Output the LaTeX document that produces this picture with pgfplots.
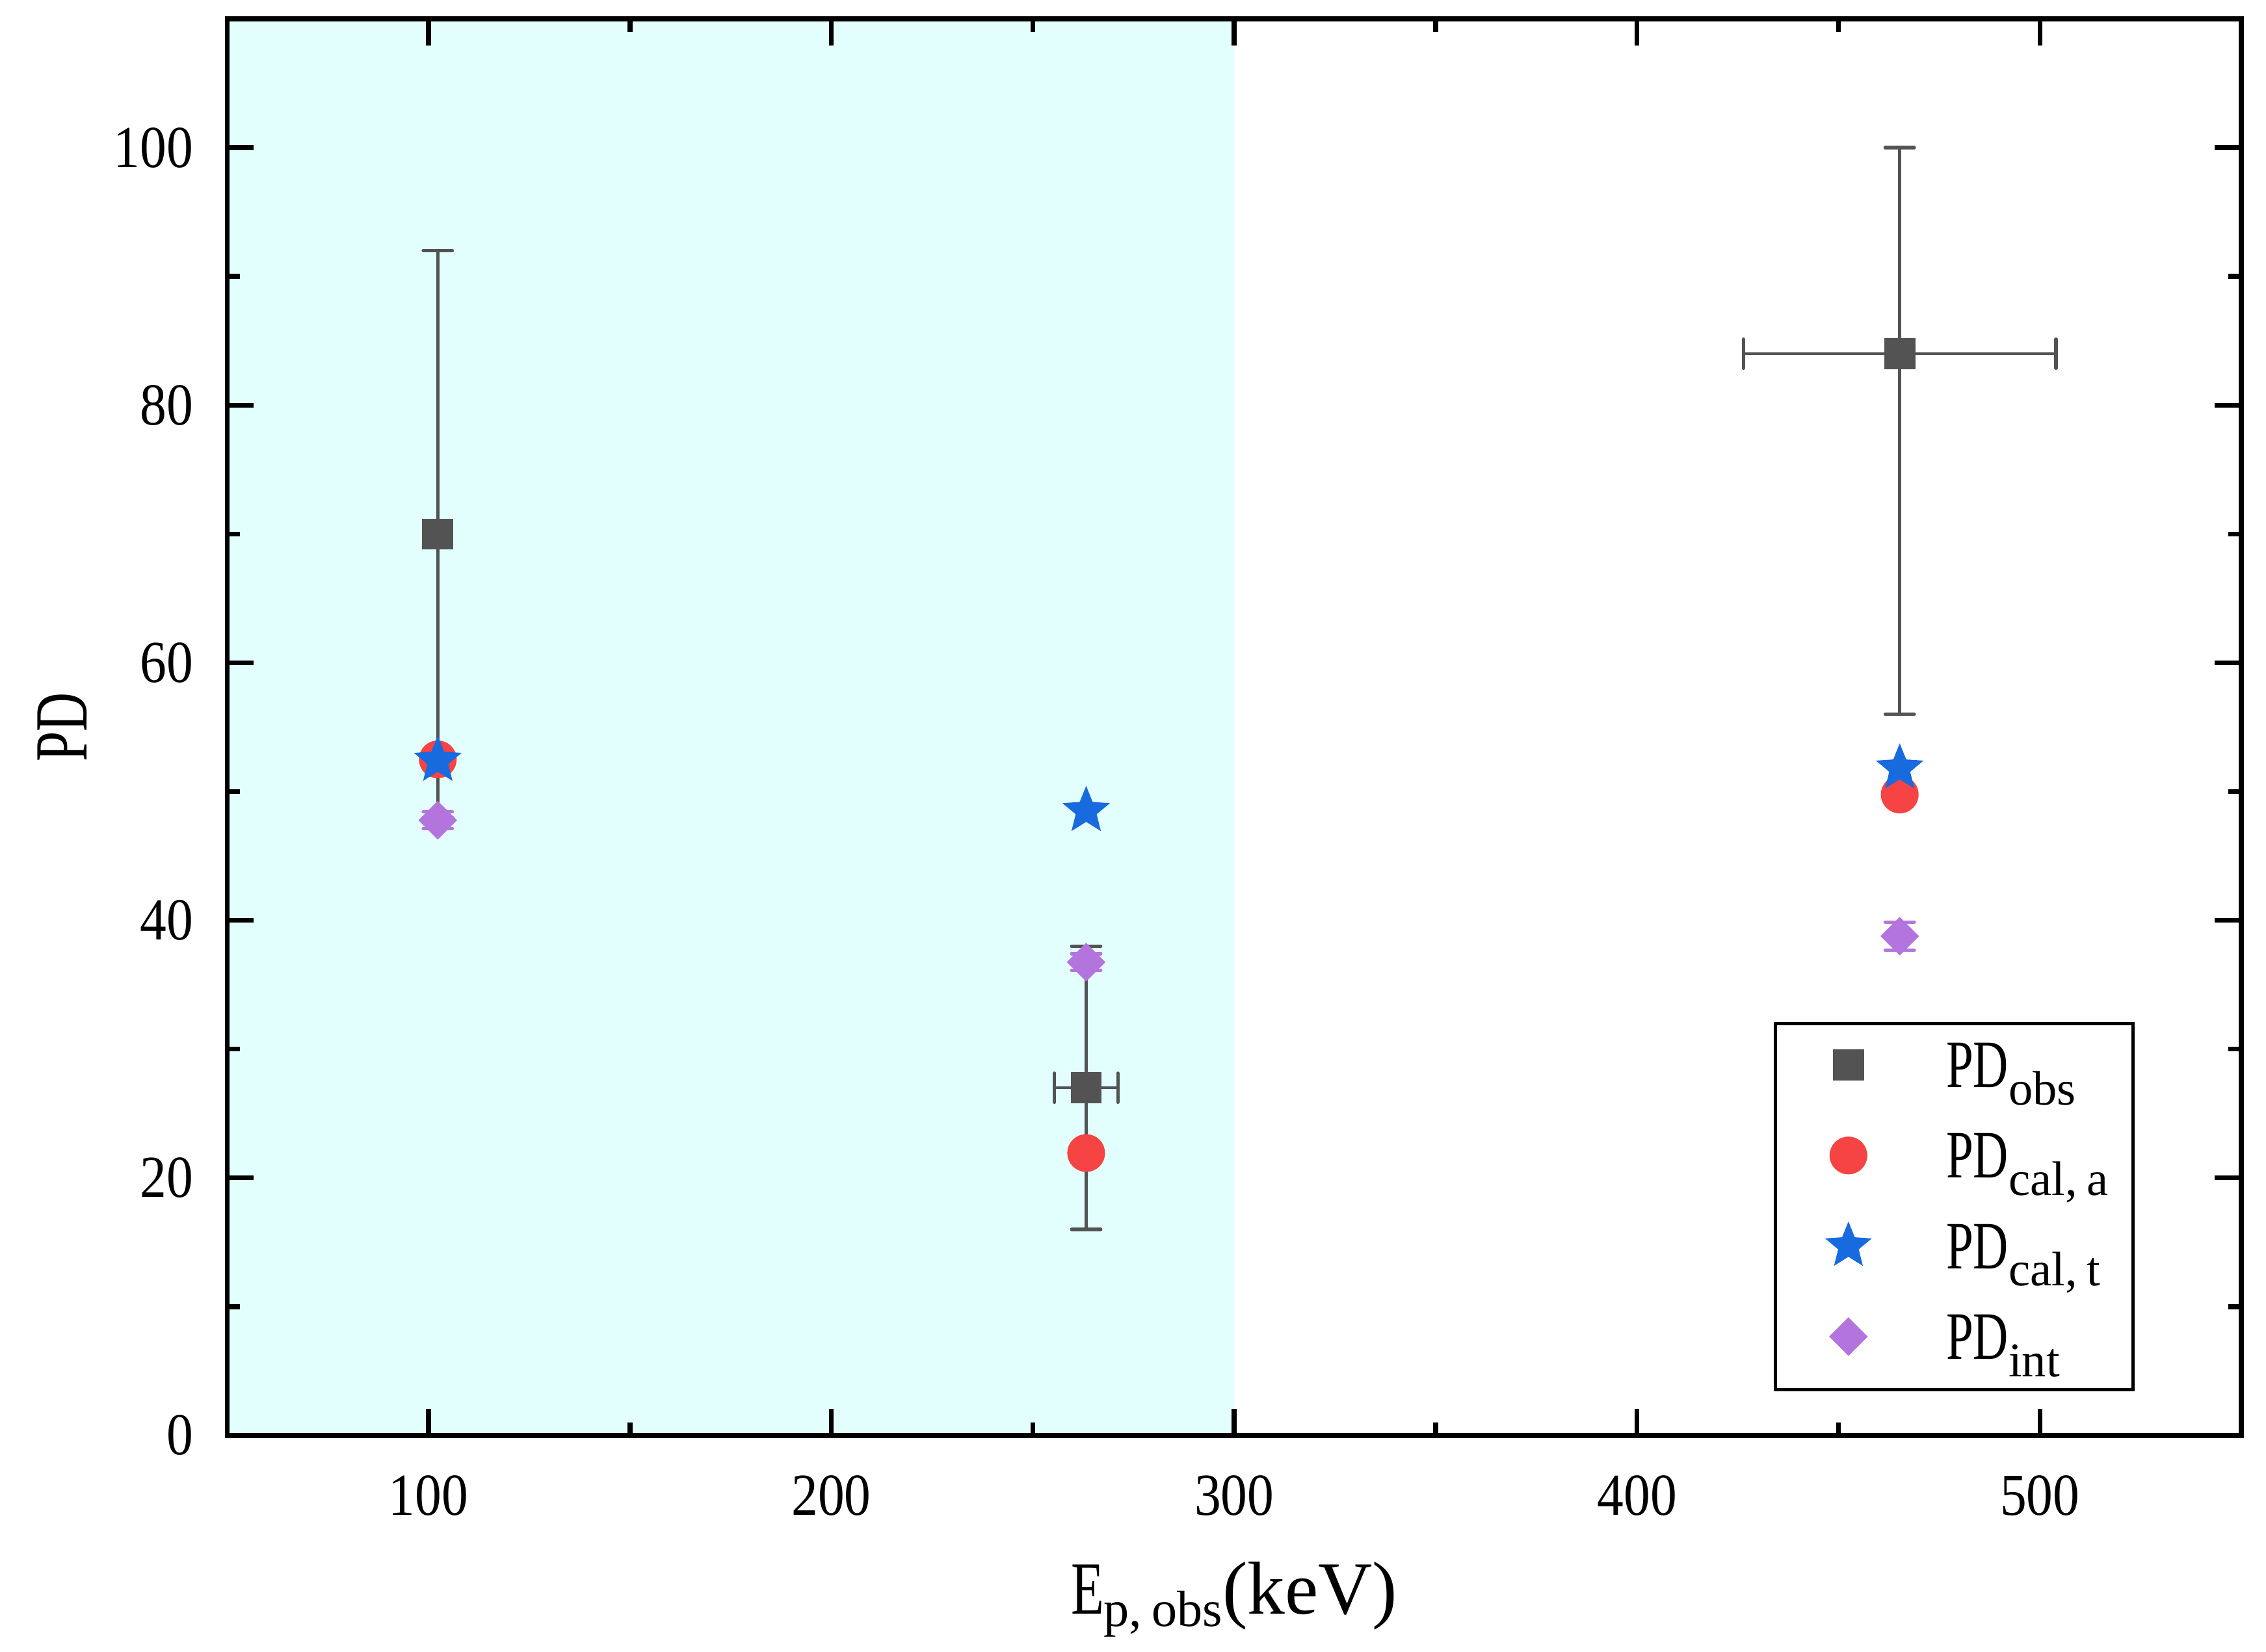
\documentclass[border=0pt]{standalone}
\usepackage{fontspec}
\setmainfont{Liberation Serif}
\newfontfamily\nfont{Liberation Serif}[FakeStretch=0.72]
\newfontfamily\dfont{Liberation Serif}[FakeStretch=0.89]
\usepackage{pgfplots}
\pgfplotsset{compat=1.18}

\definecolor{obs}{RGB}{83,83,83}
\definecolor{cred}{RGB}{246,67,67}
\definecolor{cblue}{RGB}{23,107,222}
\definecolor{cpur}{RGB}{179,117,221}
\definecolor{bgcyan}{RGB}{227,255,253}

\pgfdeclareplotmark{fstar}{%
 \pgfpathmoveto{\pgfqpointpolar{90}{\pgfplotmarksize}}%
 \pgfpathlineto{\pgfqpointpolar{126}{0.44\pgfplotmarksize}}%
 \pgfpathlineto{\pgfqpointpolar{162}{\pgfplotmarksize}}%
 \pgfpathlineto{\pgfqpointpolar{198}{0.44\pgfplotmarksize}}%
 \pgfpathlineto{\pgfqpointpolar{234}{\pgfplotmarksize}}%
 \pgfpathlineto{\pgfqpointpolar{270}{0.44\pgfplotmarksize}}%
 \pgfpathlineto{\pgfqpointpolar{306}{\pgfplotmarksize}}%
 \pgfpathlineto{\pgfqpointpolar{342}{0.44\pgfplotmarksize}}%
 \pgfpathlineto{\pgfqpointpolar{18}{\pgfplotmarksize}}%
 \pgfpathlineto{\pgfqpointpolar{54}{0.44\pgfplotmarksize}}%
 \pgfpathclose\pgfusepathqfillstroke}
\pgfdeclareplotmark{rdiamond}{%
 \pgfpathmoveto{\pgfqpoint{0pt}{\pgfplotmarksize}}%
 \pgfpathlineto{\pgfqpoint{\pgfplotmarksize}{0pt}}%
 \pgfpathlineto{\pgfqpoint{0pt}{-\pgfplotmarksize}}%
 \pgfpathlineto{\pgfqpoint{-\pgfplotmarksize}{0pt}}%
 \pgfpathclose\pgfusepathqfillstroke}

\newcommand\PDsub[1]{\mbox{{\nfont PD}\raisebox{-3.6pt}{\fontsize{10}{12}\selectfont #1}}}

\begin{document}
\begin{tikzpicture}
\begin{axis}[
  name=ax,
  scale only axis, width=416pt, height=292.6pt,
  xmin=50, xmax=550, ymin=0, ymax=110,
  xtick={100,200,300,400,500}, ytick={0,20,40,60,80,100},
  minor x tick num=1, minor y tick num=1,
  tick align=inside, tick pos=both,
  major tick length=5.5pt, minor tick length=2.7pt,
  axis line style={line width=1pt, black},
  tick style={line width=1pt, black},
  axis on top,
  /pgf/number format/assume math mode=true,
  tick label style={font={\dfont\fontsize{12.3}{14}\selectfont}, inner sep=0pt},
  xticklabel style={yshift=-8.1pt},
  yticklabel style={xshift=-6.8pt},
  xlabel={\mbox{{\nfont E}\raisebox{-2.5pt}{\fontsize{10.5}{12}\selectfont p,\kern2pt obs}(keV)}},
  ylabel={{\nfont PD}},
  xlabel style={at={(axis description cs:0.5,-0.1261)}, anchor=base, inner sep=0pt, font=\fontsize{15.5}{18}\selectfont},
  ylabel style={at={(axis description cs:-0.0697,0.5)}, anchor=base, inner sep=0pt, font=\fontsize{15.5}{18}\selectfont},
  legend cell align=left,
  legend image code/.code={\path (-15pt,0pt) (20.1pt,0pt); \draw[#1] plot coordinates {(0pt,4.65pt)};},
  legend style={at={(rel axis cs:0.947,0.0312)}, anchor=south east,
    draw=black, line width=0.6pt, fill=white,
    inner xsep=0pt, inner ysep=0.4pt, row sep=0pt,
    font=\fontsize{14}{16}\selectfont,
    nodes={inner sep=0pt, text height=12.75pt, text depth=5.95pt, text width=38.6pt, align=left},
    cells={anchor=base west}},
]
% shaded region
\addplot[fill=bgcyan, draw=none, forget plot] coordinates {(50,110) (300,110)} \closedcycle;

% legend images in legend order
\addlegendimage{only marks, mark=square*, color=obs, mark size=3.1pt, line width=0.2pt}
\addlegendentry{\PDsub{obs}}
\addlegendimage{only marks, mark=*, color=cred, mark size=3.8pt, line width=0.2pt}
\addlegendentry{\PDsub{cal,\kern2pt a}}
\addlegendimage{only marks, mark=fstar, color=cblue, mark size=4.8pt, line width=0.2pt}
\addlegendentry{\PDsub{cal,\kern2pt t}}
\addlegendimage{only marks, mark=rdiamond, color=cpur, mark size=3.85pt, line width=0.2pt}
\addlegendentry{\PDsub{int}}

% PD_cal,a
\addplot[forget plot, only marks, mark=*, color=cred, mark size=3.8pt, line width=0.2pt]
  coordinates {(102.3,52.5) (263.25,21.93) (465.2,49.77)};
% PD_cal,t
\addplot[forget plot, only marks, mark=fstar, color=cblue, mark size=4.9pt, line width=0.2pt]
  coordinates {(102.3,52.4) (263.25,48.5) (465.2,51.8)};
% PD_obs (first point: y error only)
\addplot[forget plot, only marks, mark=square*, color=obs, mark size=3.1pt, line width=0.2pt,
  error bars/.cd, y dir=both, y explicit,
  error mark=|,
  error bar style={line width=0.6pt},
  error mark options={line width=0.7pt, mark size=3pt, line cap=round}]
  coordinates {
  (102.3,70) +- (0,22)
  };
% PD_obs (points with x and y errors)
\addplot[forget plot, only marks, mark=square*, color=obs, mark size=3.1pt, line width=0.2pt,
  error bars/.cd, x dir=both, x explicit, y dir=both, y explicit,
  error mark=|,
  error bar style={line width=0.6pt},
  error mark options={line width=0.7pt, mark size=3pt, line cap=round}]
  coordinates {
  (263.25,27) +- (7.85,11)
  (465.2,84) += (38.8,16) -= (38.8,28)
  };
% PD_int
\addplot[forget plot, only marks, mark=rdiamond, color=cpur, mark size=3.85pt, line width=0.2pt,
  error bars/.cd, y dir=both, y explicit,
  error mark=|,
  error bar style={line width=0.6pt},
  error mark options={line width=0.7pt, mark size=3pt, line cap=round}]
  coordinates {
  (102.3,47.77) +- (0,0.65)
  (263.25,36.75) +- (0,0.65)
  (465.2,38.77) +- (0,1.1)
  };
\end{axis}
\pgfresetboundingbox
\path ([shift={(-46.9pt,-44.6pt)}]ax.south west) rectangle ([shift={(5.1pt,3.9pt)}]ax.north east);
\end{tikzpicture}
\end{document}
